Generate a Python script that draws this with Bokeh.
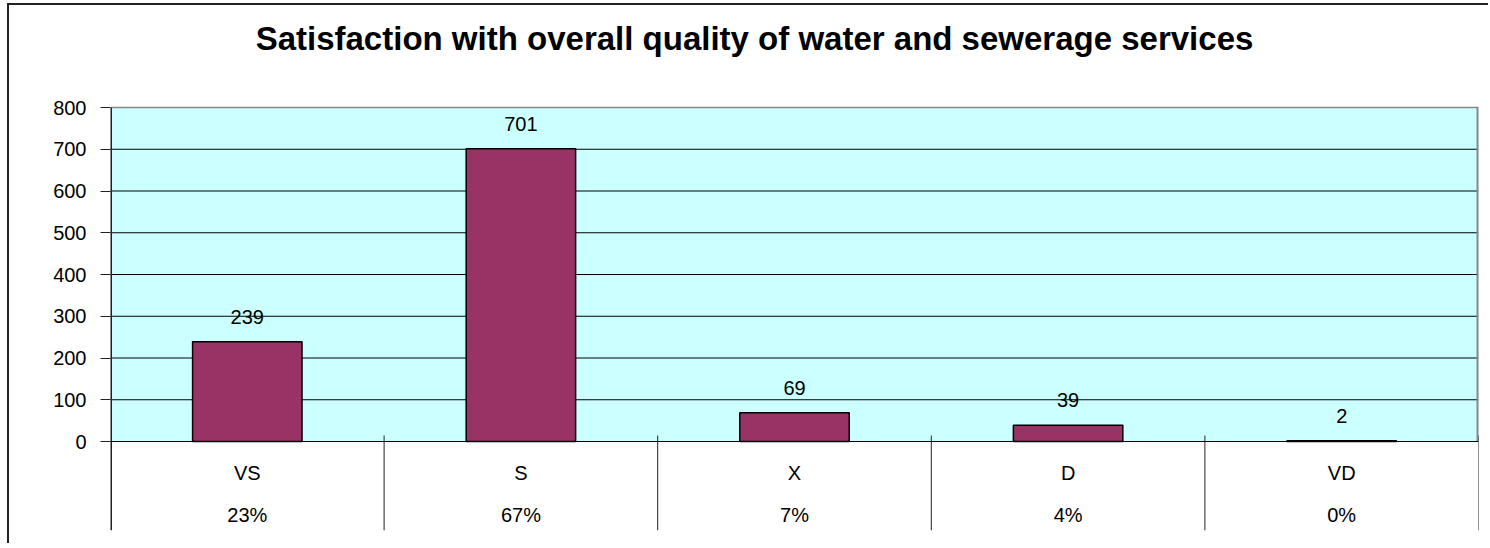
from bokeh.plotting import figure
from bokeh.models import Range1d, FixedTicker, ColumnDataSource
from bokeh.core.properties import value
from bokeh.embed import file_html
from bokeh.resources import INLINE

# ---- data ----
categories = ["VS", "S", "X", "D", "VD"]
counts = [239, 701, 69, 39, 2]
percent_labels = ["23%", "67%", "7%", "4%", "0%"]
y_ticks = [0, 100, 200, 300, 400, 500, 600, 700, 800]
title_text = "Satisfaction with overall quality of water and sewerage services"

FONT = "Liberation Sans"
n = len(categories)
y_max = 800
px_per_unit = 334 / y_max
px_per_cat = 1368 / n
y_min = -89 / px_per_unit
y_top = y_max + 102 / px_per_unit

p = figure(width=1481, height=540, output_backend="svg", toolbar_location=None,
           x_range=Range1d(0, n), y_range=Range1d(y_min, y_top),
           min_border_left=101, min_border_right=12, min_border_top=0, min_border_bottom=15)
p.styles = {"margin-left": "7px", "margin-top": "3px",
            "border-top": "2px solid #222", "border-left": "2px solid #222"}

p.background_fill_color = "white"
p.border_fill_color = "white"
p.outline_line_color = None

# x axis hidden (drawn manually)
p.xaxis.visible = False
p.xgrid.visible = False
p.ygrid.visible = False

# y axis
p.yaxis.ticker = FixedTicker(ticks=y_ticks)
p.yaxis.major_label_text_font = FONT
p.yaxis.major_label_text_font_size = "20px"
p.yaxis.major_label_text_color = "black"
p.yaxis.major_tick_out = 10
p.yaxis.major_tick_in = 0
p.yaxis.minor_tick_line_color = None
p.yaxis.major_label_standoff = 14
p.yaxis.axis_line_color = None
p.yaxis.major_tick_line_color = "#222222"

# plot area background
p.quad(left=[0], right=[n], bottom=[0], top=[y_max], fill_color="#CCFFFF", line_color=None)

# gridlines
grid_vals = [t for t in y_ticks if 0 < t < y_max]
p.segment(x0=[0] * len(grid_vals), y0=grid_vals, x1=[n] * len(grid_vals), y1=grid_vals,
          line_color="black", line_width=1)

# title
p.text(x=[n / 2 - 40 / px_per_cat], y=[y_max + 69 / px_per_unit], text=[title_text],
       text_font=value(FONT), text_font_size="33px", text_font_style="bold",
       text_color="black", text_align="center", text_baseline="middle")

# plot-area border top and right, left axis line
p.segment(x0=[0], y0=[y_max], x1=[n], y1=[y_max], line_color="#888888", line_width=1.5)
p.segment(x0=[n], y0=[0], x1=[n], y1=[y_max], line_color="#888888", line_width=4)
p.segment(x0=[0], y0=[y_min], x1=[0], y1=[y_max], line_color="#222222", line_width=3)

# bars
xs = [i + 0.5 for i in range(n)]
src = ColumnDataSource(dict(x=xs, top=counts, cat=categories, pct=percent_labels,
                            lbl=[str(c) for c in counts]))
p.vbar(x="x", top="top", bottom=0, width=0.4, source=src,
       fill_color="#993366", line_color="black", line_width=1.5)

# x axis baseline
p.segment(x0=[0], y0=[0], x1=[n], y1=[0], line_color="black", line_width=1.2)

# category dividers
tick_top = 6 / px_per_unit
p.segment(x0=list(range(1, n + 1)), y0=[tick_top] * n, x1=list(range(1, n + 1)), y1=[y_min] * n,
          line_color="#222222", line_width=1)

# value labels
p.text(x="x", y="top", text="lbl", source=src, text_align="center", text_baseline="alphabetic",
       y_offset=-25, text_font=value(FONT), text_font_size="20px", text_color="black")

# category labels and percentages
cat_y = -31 / px_per_unit
pct_y = -73 / px_per_unit
p.text(x="x", y=cat_y, text="cat", source=src, text_align="center", text_baseline="middle",
       text_font=value(FONT), text_font_size="20px", text_color="black")
p.text(x="x", y=pct_y, text="pct", source=src, text_align="center", text_baseline="middle",
       text_font=value(FONT), text_font_size="20px", text_color="black")

open("out.html", "w").write(file_html(p, INLINE))
